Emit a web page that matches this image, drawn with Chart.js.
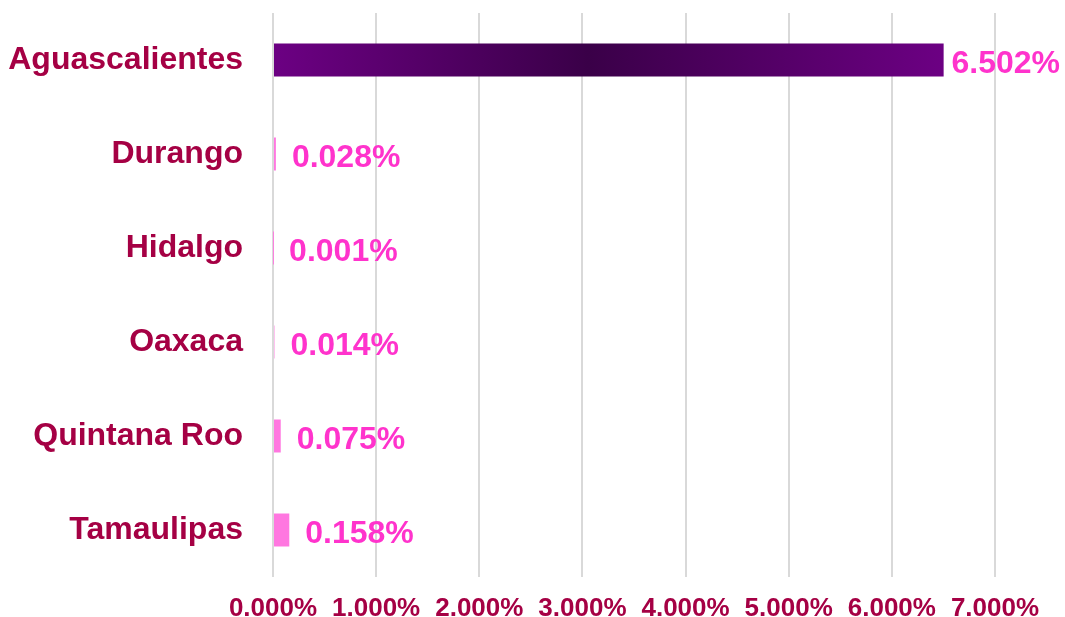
<!DOCTYPE html>
<html>
<head>
<meta charset="utf-8">
<script src="https://cdn.jsdelivr.net/npm/chart.js@4/dist/chart.umd.min.js"></script>
<style>
html,body{margin:0;padding:0;background:#fff;}
#wrap{width:1065px;height:617px;}
</style>
</head>
<body>
<div id="wrap"><canvas id="c" width="1065" height="617"></canvas></div>
<script>
const categories = ["Aguascalientes", "Durango", "Hidalgo", "Oaxaca", "Quintana Roo", "Tamaulipas"];
const values = [6.502, 0.028, 0.001, 0.014, 0.075, 0.158];
const valueLabels = ["6.502%", "0.028%", "0.001%", "0.014%", "0.075%", "0.158%"];
const tickValues = [0, 1, 2, 3, 4, 5, 6, 7];

const FONT = "'Liberation Sans', Arial, sans-serif";

function barColor(ctx) {
  if (ctx.dataIndex !== 0) return '#ff77e0';
  const chart = ctx.chart;
  const area = chart.chartArea;
  if (!area) return '#6a0080';
  const xs = chart.scales.x;
  const x0 = xs.getPixelForValue(0);
  const x1 = xs.getPixelForValue(values[0]);
  const g = chart.ctx.createLinearGradient(x0, 0, x1, 0);
  g.addColorStop(0, '#6c0083');
  g.addColorStop(0.47, '#3a0048');
  g.addColorStop(1, '#6c0083');
  return g;
}

const labelPlugin = {
  id: 'valLabels',
  afterDatasetsDraw(chart) {
    const ctx = chart.ctx;
    const meta = chart.getDatasetMeta(0);
    ctx.save();
    ctx.font = "bold 32px " + FONT;
    ctx.fillStyle = '#ff33cc';
    ctx.textBaseline = 'middle';
    ctx.textAlign = 'left';
    meta.data.forEach((bar, i) => {
      const txt = valueLabels[i];
      const w = ctx.measureText(txt).width;
      let x = bar.x + 16;
      if (x + w > chart.width - 5) x = chart.width - 5 - w;
      ctx.fillText(txt, x, bar.y + 4);
    });
    ctx.restore();
  }
};

new Chart(document.getElementById('c'), {
  type: 'bar',
  data: {
    labels: categories,
    datasets: [{
      data: values,
      backgroundColor: barColor,
      borderWidth: 0,
      barPercentage: 0.351,
      categoryPercentage: 1
    }]
  },
  options: {
    indexAxis: 'y',
    responsive: false,
    animation: false,
    devicePixelRatio: 1,
    layout: { padding: { top: 13, right: 70, bottom: 0, left: 0 } },
    plugins: { legend: { display: false }, tooltip: { enabled: false } },
    scales: {
      x: {
        min: 0, max: 7,
        afterBuildTicks(scale) { scale.ticks = tickValues.map(v => ({ value: v })); },
        afterFit(scale) { scale.height = 40; scale.paddingLeft = 0; scale.paddingRight = 0; },
        grid: { color: '#d9d9d9', lineWidth: 2, drawTicks: false },
        border: { display: false },
        ticks: {
          padding: 16,
          color: '#a50044',
          font: { family: FONT, size: 26, weight: 'bold' },
          maxRotation: 0,
          autoSkip: false,
          callback: (v) => Number(v).toFixed(3) + '%'
        }
      },
      y: {
        afterFit(scale) { scale.width = 273; scale.paddingTop = 0; scale.paddingBottom = 0; },
        grid: { display: false, drawTicks: false },
        border: { display: false },
        ticks: {
          padding: 30,
          color: '#a50044',
          font: { family: FONT, size: 32, weight: 'bold', lineHeight: 1.0 }
        }
      }
    }
  },
  plugins: [labelPlugin]
});
</script>
</body>
</html>
